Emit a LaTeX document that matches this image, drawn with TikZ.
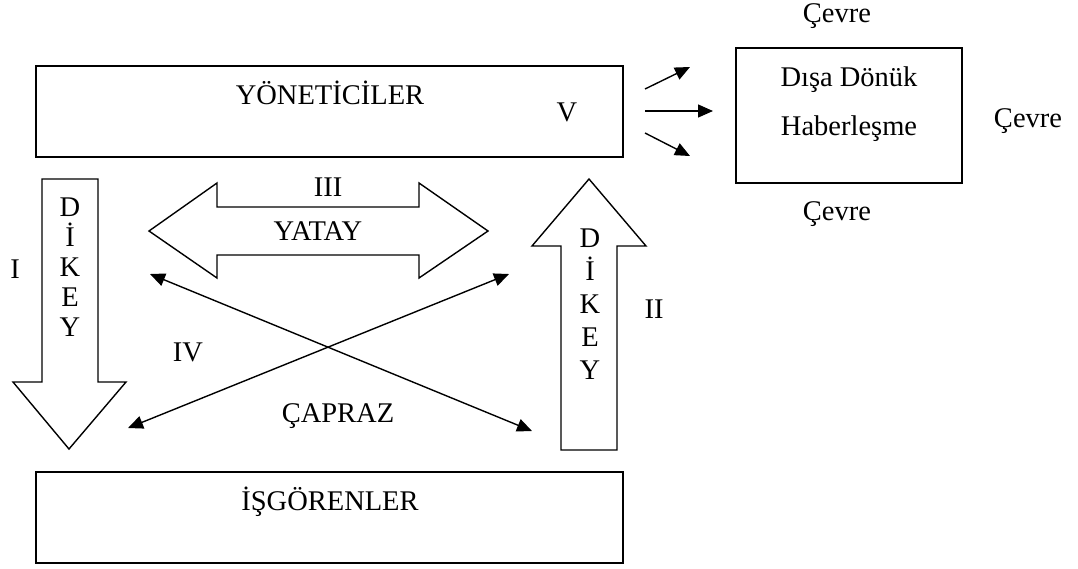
\documentclass[tikz,border=0pt]{standalone}
\usepackage{fontspec}
\setmainfont{Liberation Serif}
\usetikzlibrary{arrows.meta}

\begin{document}
\begin{tikzpicture}[x=1pt,y=-1pt,
  every node/.style={font=\fontsize{28.5}{32}\selectfont, inner sep=0pt, outer sep=0pt},
  lbl/.style={anchor=base},
  box/.style={draw, line width=2pt},
  blockarrow/.style={draw, line width=1.4pt, line join=miter},
  tip/.style={-{Triangle[length=15pt,width=13pt]}},
  thinarrow/.style={line width=1.4pt, tip},
  botharrow/.style={line width=1.4pt, {Triangle[length=15pt,width=13pt]}-{Triangle[length=15pt,width=13pt]}},
]
\useasboundingbox (0,0) rectangle (1078,568);

% --- the three rectangles ---
\node[box, minimum width=587pt, minimum height=91pt] (yon) at (329.5,111.5) {};
\node[box, minimum width=587pt, minimum height=91pt] (isg) at (329.5,517.5) {};
\node[box, minimum width=226pt, minimum height=135pt] (dis) at (849,115.5) {};

\node[lbl] (yontxt) at (330,104) {YÖNETİCİLER};
\node[lbl] (v) at (567,121) {V};
\node[lbl] (isgtxt) at (330,510) {İŞGÖRENLER};
\node[lbl] (dis1) at (849,86) {Dışa Dönük};
\node[lbl] (dis2) at (849,135) {Haberleşme};

% --- surroundings ---
\node[lbl] (cevreN) at (837,22) {Çevre};
\node[lbl] (cevreE) at (1028,127) {Çevre};
\node[lbl] (cevreS) at (837,220) {Çevre};

% --- outward arrows ---
\coordinate (o1) at (645,89);  \coordinate (t1) at (690,67);
\coordinate (o2) at (645,111); \coordinate (t2) at (713,111);
\coordinate (o3) at (645,133); \coordinate (t3) at (690,156);
\draw[thinarrow] (o1) -- (t1);
\draw[thinarrow] (o2) -- (t2);
\draw[thinarrow] (o3) -- (t3);

% --- downward block arrow (I) ---
\draw[blockarrow] (42,179) -- (98,179) -- (98,382) -- (126,382) -- (69,449)
  -- (13,382) -- (42,382) -- cycle;
\foreach \ch [count=\i from 0] in {D,İ,K,E,Y}
  \node[lbl] (ld\i) at (70,216+30*\i) {\ch};
\node[lbl] (one) at (15,278) {I};

% --- upward block arrow (II) ---
\draw[blockarrow] (561,450) -- (617,450) -- (617,246) -- (646,246) -- (589,179)
  -- (532,246) -- (561,246) -- cycle;
\foreach \ch [count=\i from 0] in {D,İ,K,E,Y}
  \node[lbl] (rd\i) at (590,247+33*\i) {\ch};
\node[lbl] (two) at (654,318) {II};

% --- horizontal double block arrow (III) ---
\draw[blockarrow] (149,231) -- (217,183) -- (217,207) -- (419,207) -- (419,183)
  -- (488,231) -- (419,278) -- (419,255) -- (217,255) -- (217,278) -- cycle;
\node[lbl] (three) at (328,196) {III};
\node[lbl] (yatay) at (318,240) {YATAY};

% --- crossing arrows (IV) ---
\coordinate (xa1) at (150,274); \coordinate (xa2) at (532,431);
\coordinate (xb1) at (128,428); \coordinate (xb2) at (509,274);
\draw[botharrow] (xa1) -- (xa2);
\draw[botharrow] (xb1) -- (xb2);
\node[lbl] (four) at (188,361) {IV};
\node[lbl] (capraz) at (338,422) {ÇAPRAZ};
\end{tikzpicture}
\end{document}
